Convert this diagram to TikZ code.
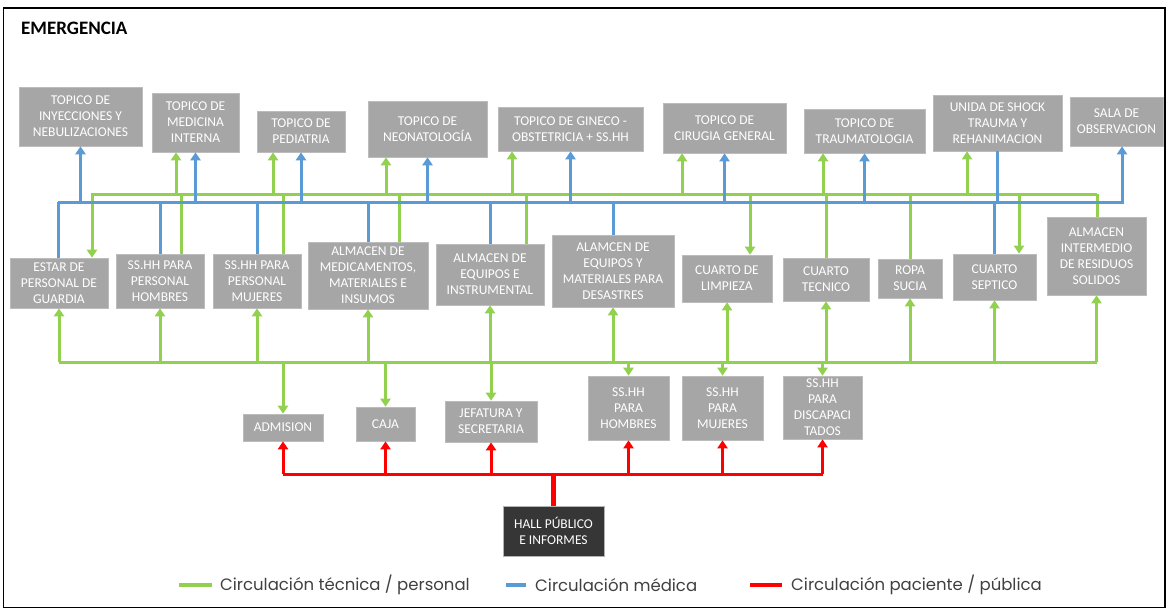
\documentclass[tikz,border=0pt]{standalone}
\usepackage{fontspec}
\setmainfont{Carlito}
\newfontfamily\legendfont{Poppins}
\usetikzlibrary{arrows.meta}
\definecolor{boxgray}{HTML}{A6A6A6}
\definecolor{hallgray}{HTML}{363636}
\definecolor{tecgreen}{HTML}{92D050}
\definecolor{medblue}{HTML}{5B9BD5}
\definecolor{pubred}{HTML}{FF0000}

\begin{document}
\begin{tikzpicture}[x=1pt,y=-1pt,
  room/.style={fill=boxgray, draw=boxgray!75, line width=0.6pt, text=white,
    align=center, inner sep=0pt, font=\fontsize{13.5}{16}\selectfont},
  hallbox/.style={room, fill=hallgray, draw=gray!60},
  gl/.style={draw=tecgreen, line width=3pt, line join=miter},
  bl/.style={draw=medblue, line width=3pt, line join=miter},
  rl/.style={draw=pubred, line width=3pt, line join=miter},
  tip/.style={-{Triangle[length=8pt,width=10pt]}},
  legtext/.style={anchor=west, inner sep=0pt, font=\legendfont\fontsize{16.5}{18}\selectfont, text=black!75},
]
\useasboundingbox (0,0) rectangle (1167,610);
\draw[line width=1.5pt] (3.5,8) rectangle (1165,607.5);

\node[anchor=west, inner sep=0pt, font=\bfseries\fontsize{19}{21}\selectfont] (title) at (21,28) {EMERGENCIA};

% ---- bus levels
\coordinate (GB) at (0,194);
\coordinate (BB) at (0,202);
\coordinate (LB) at (0,362);
\coordinate (RB) at (0,474);

% ---- top row: topicos
\node[room, minimum width=123pt, minimum height=59pt] (t1) at (80.5,116.5) {TOPICO DE\\INYECCIONES Y\\NEBULIZACIONES};
\node[room, minimum width=87pt, minimum height=59pt] (t2) at (195.5,122.5) {TOPICO DE\\MEDICINA\\INTERNA};
\node[room, minimum width=88pt, minimum height=41pt] (t3) at (301,131.5) {TOPICO DE\\PEDIATRIA};
\node[room, minimum width=119pt, minimum height=56pt] (t4) at (427.5,129) {TOPICO DE\\NEONATOLOGÍA};
\node[room, minimum width=145pt, minimum height=44pt] (t5) at (570.5,129) {TOPICO DE GINECO -\\OBSTETRICIA + SS.HH};
\node[room, minimum width=123pt, minimum height=50pt] (t6) at (724.5,128) {TOPICO DE\\CIRUGIA GENERAL};
\node[room, minimum width=121pt, minimum height=44pt] (t7) at (864.5,131) {TOPICO DE\\TRAUMATOLOGIA};
\node[room, minimum width=129pt, minimum height=56pt] (t8) at (997.5,123) {UNIDA DE SHOCK\\TRAUMA Y\\REHANIMACION};
\node[room, minimum width=93pt, minimum height=49pt] (t9) at (1116.5,121.5) {SALA DE\\OBSERVACION};

% ---- middle row: support rooms
\node[room, minimum width=98pt, minimum height=50pt] (m1) at (59,283) {ESTAR DE\\PERSONAL DE\\GUARDIA};
\node[room, minimum width=88pt, minimum height=54pt] (m2) at (160,281) {SS.HH PARA\\PERSONAL\\HOMBRES};
\node[room, minimum width=88pt, minimum height=54pt] (m3) at (257,281) {SS.HH PARA\\PERSONAL\\MUJERES};
\node[room, minimum width=120pt, minimum height=67pt] (m4) at (368,275.5) {ALMACEN DE\\MEDICAMENTOS,\\MATERIALES E\\INSUMOS};
\node[room, minimum width=108pt, minimum height=61pt] (m5) at (490,274.5) {ALMACEN DE\\EQUIPOS E\\INSTRUMENTAL};
\node[room, minimum width=122pt, minimum height=72pt] (m6) at (613,271) {ALAMCEN DE\\EQUIPOS Y\\MATERIALES PARA\\DESASTRES};
\node[room, minimum width=90pt, minimum height=47pt] (m7) at (727,278.5) {CUARTO DE\\LIMPIEZA};
\node[room, minimum width=86pt, minimum height=43pt] (m8) at (826,279.5) {CUARTO\\TECNICO};
\node[room, minimum width=64pt, minimum height=39pt] (m9) at (910,278.5) {ROPA\\SUCIA};
\node[room, minimum width=83pt, minimum height=46pt] (m10) at (994.5,277) {CUARTO\\SEPTICO};
\node[room, minimum width=99pt, minimum height=78pt] (m11) at (1096.5,256) {ALMACEN\\INTERMEDIO\\DE RESIDUOS\\SOLIDOS};

% ---- bottom row: public area
\node[room, minimum width=80pt, minimum height=27pt] (b1) at (283,427.5) {ADMISION};
\node[room, minimum width=59pt, minimum height=34pt] (b2) at (385.5,424) {CAJA};
\node[room, minimum width=92pt, minimum height=41pt] (b3) at (491,421.5) {JEFATURA Y\\SECRETARIA};
\node[room, minimum width=81pt, minimum height=64pt] (b4) at (628.5,408) {SS.HH\\PARA\\HOMBRES};
\node[room, minimum width=81pt, minimum height=64pt] (b5) at (722.5,408) {SS.HH\\PARA\\MUJERES};
\node[room, minimum width=79pt, minimum height=63pt] (b6) at (822.5,407.5) {SS.HH\\PARA\\DISCAPACI\\TADOS};
\node[hallbox, minimum width=101pt, minimum height=50pt] (hall) at (553.5,531) {HALL PÚBLICO\\E INFORMES};

% ---- technical / staff circulation (upper bus)
\draw[gl,tip] (m11.north |- GB) -- ([xshift=33pt]m1.north |- GB) -- ([xshift=33pt]m1.north);
\draw[gl] ([xshift=0.5pt]m11.north) -- ([xshift=0.5pt]m11.north |- GB);
\foreach \n/\dx in {t2/-19.5, t3/-28, t4/-41.5, t5/-58.5, t6/-42.5, t7/-41.5, t8/-30.5}
  \draw[gl,tip] ([xshift=\dx pt]\n.south |- GB) -- ([xshift=\dx pt]\n.south);
\foreach \n/\dx in {m2/21, m3/26, m4/31, m5/36, m8/0, m9/0}
  \draw[gl] ([xshift=\dx pt]\n.north) -- ([xshift=\dx pt]\n.north |- GB);
\foreach \n/\dx in {m7/23, m10/24.5}
  \draw[gl,tip] ([xshift=\dx pt]\n.north |- GB) -- ([xshift=\dx pt]\n.north);

% ---- medical circulation
\draw[bl,tip] ([xshift=-1pt]m1.north |- BB) -- ([xshift=5.5pt]t9.south |- BB) -- ([xshift=5.5pt]t9.south);
\draw[bl] ([xshift=-1pt]m1.north) -- ([xshift=-1pt]m1.north |- BB);
\foreach \n in {t1, t2, t3, t4, t5, t6, t7}
  \draw[bl,tip] (\n.south |- BB) -- (\n.south);
\draw[bl] (t8.south) -- (t8.south |- BB);
\foreach \n in {m2, m3, m4, m5, m6, m10}
  \draw[bl] (\n.north) -- (\n.north |- BB);

% ---- technical / staff circulation (lower bus)
\draw[gl] (m1.south |- LB) -- (m11.south |- LB);
\foreach \n in {m1, m2, m3, m4, m5, m6, m7, m8, m9, m10, m11}
  \draw[gl,tip] (\n.south |- LB) -- (\n.south);
\foreach \n in {b1, b2, b3, b4, b5, b6}
  \draw[gl,tip] (\n.north |- LB) -- (\n.north);

% ---- patient / public circulation
\draw[rl] (b1.south |- RB) -- (b6.south |- RB);
\foreach \n in {b1, b2, b3, b4, b5, b6}
  \draw[rl,tip] (\n.south |- RB) -- (\n.south);
\draw[rl, line width=5pt] (hall.north) -- (hall.north |- RB);

% ---- legend
\node[legtext] (lg1) at (220,585) {Circulación técnica / personal};
\node[legtext] (lg2) at (535,585) {Circulación médica};
\node[legtext] (lg3) at (791,585) {Circulación paciente / pública};
\draw[gl, line width=4pt] ([xshift=-41pt]lg1.west) -- ([xshift=-8pt]lg1.west);
\draw[bl, line width=4pt] ([xshift=-29pt]lg2.west) -- ([xshift=-9pt]lg2.west);
\draw[rl, line width=4pt] ([xshift=-41pt]lg3.west) -- ([xshift=-9pt]lg3.west);
\end{tikzpicture}
\end{document}
